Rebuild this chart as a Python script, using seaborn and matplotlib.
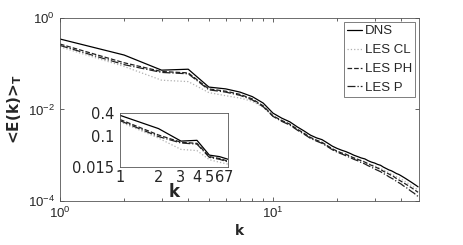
import numpy as np
import pandas as pd
import matplotlib
matplotlib.use('Agg')
import matplotlib.pyplot as plt
import matplotlib.ticker as mticker
import seaborn as sns

# wavenumbers
k = list(range(1, 49))

# time averaged spectra
dns = [0.347, 0.155, 0.0724, 0.0759, 0.0309, 0.0282, 0.0240, 0.0191, 0.0138, 0.00832,
       0.00646, 0.00537, 0.00417, 0.00339, 0.00275, 0.00240, 0.00219, 0.00186, 0.00158, 0.00141,
       0.00129, 0.00120, 0.00110, 0.00100, 9.33e-4, 8.71e-4, 8.32e-4, 7.59e-4, 7.08e-4, 6.76e-4,
       6.31e-4, 6.03e-4, 5.50e-4, 5.13e-4, 4.79e-4, 4.57e-4, 4.27e-4, 3.98e-4, 3.80e-4, 3.55e-4,
       3.31e-4, 3.09e-4, 2.88e-4, 2.69e-4, 2.51e-4, 2.34e-4, 2.19e-4, 2.04e-4]
les_cl = [0.234, 0.0871, 0.0437, 0.0407, 0.0234, 0.0200, 0.0178, 0.0151, 0.0112, 0.00724,
          0.00562, 0.00468, 0.00363, 0.00295, 0.00240, 0.00209, 0.00186, 0.00158, 0.00138, 0.00123,
          0.00112, 0.00105, 9.55e-4, 8.71e-4, 8.13e-4, 7.59e-4, 7.24e-4, 6.61e-4, 6.17e-4, 5.89e-4,
          5.50e-4, 5.13e-4, 4.79e-4, 4.47e-4, 4.17e-4, 3.89e-4, 3.63e-4, 3.39e-4, 3.24e-4, 3.02e-4,
          2.82e-4, 2.63e-4, 2.45e-4, 2.29e-4, 2.14e-4, 2.00e-4, 1.86e-4, 1.74e-4]
les_ph = [0.269, 0.105, 0.0676, 0.0631, 0.0282, 0.0251, 0.0214, 0.0170, 0.0120, 0.00724,
          0.00575, 0.00479, 0.00372, 0.00302, 0.00245, 0.00214, 0.00191, 0.00162, 0.00138, 0.00123,
          0.00112, 0.00105, 9.55e-4, 8.71e-4, 8.13e-4, 7.59e-4, 7.08e-4, 6.46e-4, 6.03e-4, 5.62e-4,
          5.25e-4, 4.90e-4, 4.47e-4, 4.17e-4, 3.89e-4, 3.63e-4, 3.39e-4, 3.09e-4, 2.88e-4, 2.69e-4,
          2.51e-4, 2.34e-4, 2.19e-4, 2.04e-4, 1.91e-4, 1.78e-4, 1.66e-4, 1.55e-4]
les_p = [0.251, 0.0955, 0.0646, 0.0603, 0.0269, 0.0240, 0.0204, 0.0162, 0.0115, 0.00708,
         0.00550, 0.00457, 0.00355, 0.00288, 0.00234, 0.00204, 0.00182, 0.00155, 0.00132, 0.00117,
         0.00107, 9.77e-4, 8.91e-4, 8.13e-4, 7.59e-4, 6.92e-4, 6.46e-4, 5.89e-4, 5.50e-4, 5.01e-4,
         4.68e-4, 4.37e-4, 3.98e-4, 3.72e-4, 3.39e-4, 3.16e-4, 2.95e-4, 2.69e-4, 2.51e-4, 2.34e-4,
         2.14e-4, 2.00e-4, 1.86e-4, 1.70e-4, 1.58e-4, 1.48e-4, 1.35e-4, 1.26e-4]

labels = ['DNS', 'LES CL', 'LES PH', 'LES P']
inset_yticks = [0.015, 0.1, 0.4]
inset_xticks = [1, 2, 3, 4, 5, 6, 7]

sns.set_style('ticks')
plt.rcParams['font.family'] = ['Liberation Sans Narrow', 'Liberation Sans', 'DejaVu Sans']

df = pd.DataFrame({'k': k * 4,
                   'E': dns + les_cl + les_ph + les_p,
                   'run': sum([[l] * len(k) for l in labels], [])})

styles = {'DNS': ('black', '-'), 'LES CL': ('#b0b0b0', ':'),
          'LES PH': ('#202020', '--'), 'LES P': ('#202020', '-.')}

fig = plt.figure(figsize=(4.63, 2.45), dpi=100)
ax = fig.add_axes([0.1296, 0.1796, 0.7754, 0.747])

def draw(a, data, legend):
    for l in labels:
        c, ls = styles[l]
        sns.lineplot(data=data[data.run == l], x='k', y='E', color=c, linestyle=ls,
                     linewidth=0.9, ax=a, label=l if legend else None)

draw(ax, df, True)
ax.set_xscale('log')
ax.set_yscale('log')
ax.set_xlim(1, 48.5)
ax.set_ylim(1e-4, 1)
ax.yaxis.set_major_locator(mticker.FixedLocator([1e-4, 1e-2, 1]))
ax.yaxis.set_minor_locator(mticker.NullLocator())
ax.tick_params(which='both', direction='in', top=True, right=True, labelsize=9.5, width=0.5)
ax.tick_params(which='major', length=3)
ax.tick_params(which='minor', length=2)
ax.set_xlabel('k', fontsize=10, fontweight='bold', labelpad=2,
              family=['DejaVu Sans'])
ax.set_ylabel(r'<E(k)>$_\mathbf{T}$', fontsize=11, fontweight='bold', labelpad=3,
              family=['DejaVu Sans'])
for s in ax.spines.values():
    s.set_linewidth(0.6)
    s.set_color('#555555')
leg = ax.legend(loc='upper right', fontsize=9.5, frameon=True, fancybox=False,
                handlelength=1.1, handletextpad=0.2, borderpad=0.25, labelspacing=0.5,
                borderaxespad=0.3)
leg.get_frame().set_edgecolor('#444444')
leg.get_frame().set_linewidth(0.6)

# inset with the low wavenumbers
axi = fig.add_axes([0.2592, 0.3184, 0.2333, 0.2204])
draw(axi, df[df.k <= 7], False)
axi.set_xscale('log')
axi.set_yscale('log')
axi.set_xlim(1, 7)
axi.set_ylim(0.015, 0.4)
axi.xaxis.set_major_locator(mticker.FixedLocator(inset_xticks))
axi.xaxis.set_minor_locator(mticker.NullLocator())
axi.xaxis.set_major_formatter(mticker.FixedFormatter([str(v) for v in inset_xticks]))
axi.yaxis.set_major_locator(mticker.FixedLocator(inset_yticks))
axi.yaxis.set_minor_locator(mticker.NullLocator())
axi.yaxis.set_major_formatter(mticker.FixedFormatter([str(v) for v in inset_yticks]))
axi.tick_params(axis='x', length=0, pad=2)
axi.tick_params(axis='y', length=0, pad=4)
for t in axi.get_xticklabels() + axi.get_yticklabels():
    t.set_family(['DejaVu Sans'])
    t.set_fontsize(10.5)
axi.set_xlabel('k', fontsize=12, fontweight='bold', labelpad=-1,
               family=['DejaVu Sans'])
axi.set_ylabel('')
for s in axi.spines.values():
    s.set_linewidth(0.6)
    s.set_color('#555555')

fig.savefig('out.png', dpi=100)
